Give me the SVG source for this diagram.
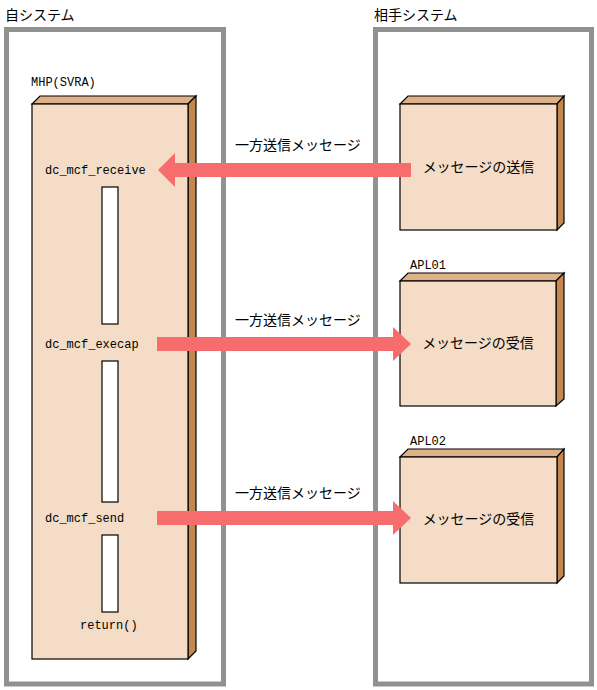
<svg xmlns="http://www.w3.org/2000/svg" width="597" height="690" viewBox="0 0 597 690">
<style>
.sys{fill:none;stroke:#919191;stroke-width:5}
.front{fill:#F4DCC6;stroke:#000;stroke-width:1.2}
.top{fill:#DEB188;stroke:#000;stroke-width:1.2}
.side{fill:#C4884F;stroke:#000;stroke-width:1.2}
.bar{fill:#fff;stroke:#000;stroke-width:1.2}
.arrow{fill:#F76C6C}
.jp{font-family:"Noto Sans CJK JP","Noto Sans",sans-serif;font-size:14px;fill:#000}
.mono{font-family:"Liberation Mono","DejaVu Sans Mono",monospace;font-size:12px;fill:#000}
.mid{text-anchor:middle}
</style>
<rect width="597" height="690" fill="#fff"/>
<g id="own-system">
<rect class="sys" x="6.5" y="29.5" width="217" height="654.5"/>
<text class="jp" x="5" y="20">自システム</text>
</g>
<g id="peer-system">
<rect class="sys" x="375.5" y="29.5" width="216" height="654.5"/>
<text class="jp" x="374" y="20">相手システム</text>
</g>
<g id="mhp">
<text class="mono" x="31" y="86">MHP(SVRA)</text>
<polygon class="top" points="32,104 40,96 196,96 188,104"/>
<polygon class="side" points="188,104 196,96 196,651 188,659"/>
<rect class="front" x="32" y="104" width="156" height="555"/>
<rect class="bar" x="102" y="187" width="16" height="137"/>
<rect class="bar" x="102" y="361" width="16" height="141"/>
<rect class="bar" x="102" y="535" width="16" height="77"/>
<text class="mono" x="45" y="173.5">dc_mcf_receive</text>
<text class="mono" x="45" y="347.5">dc_mcf_execap</text>
<text class="mono" x="45" y="522">dc_mcf_send</text>
<text class="mono" x="80" y="629">return()</text>
</g>
<g id="sender">
<polygon class="top" points="400,104 408,96 564,96 557,104"/>
<polygon class="side" points="557,104 564,96 564,223 557,230"/>
<rect class="front" x="400" y="104" width="157" height="126"/>
<text class="jp mid" x="478.5" y="172">メッセージの送信</text>
</g>
<g id="apl01">
<text class="mono" x="410" y="269">APL01</text>
<polygon class="top" points="400,281 408,273 564,273 556,281"/>
<polygon class="side" points="556,281 564,273 564,399 556,406"/>
<rect class="front" x="400" y="281" width="156" height="125"/>
<text class="jp mid" x="478" y="348">メッセージの受信</text>
</g>
<g id="apl02">
<text class="mono" x="410" y="445">APL02</text>
<polygon class="top" points="400,457 408,449 564,449 557,457"/>
<polygon class="side" points="557,457 564,449 564,576 557,583"/>
<rect class="front" x="400" y="457" width="157" height="126"/>
<text class="jp mid" x="478.5" y="524">メッセージの受信</text>
</g>
<g id="connectors">
<polygon class="arrow" points="411,163 175,163 175,153 158,170 175,187 175,177 411,177"/>
<text class="jp" x="235" y="150">一方送信メッセージ</text>
<polygon class="arrow" points="157,337 393,337 393,327 411,344 393,361 393,351 157,351"/>
<text class="jp" x="235" y="325">一方送信メッセージ</text>
<polygon class="arrow" points="157,511 393,511 393,501 411,518 393,535 393,525 157,525"/>
<text class="jp" x="235" y="498">一方送信メッセージ</text>
</g>
</svg>
